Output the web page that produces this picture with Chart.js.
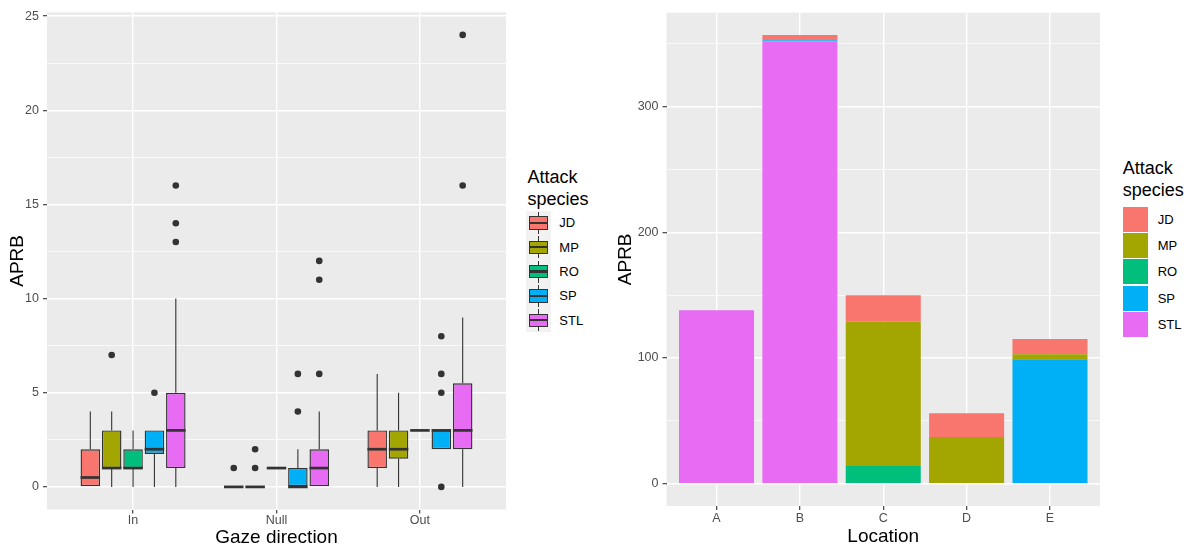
<!DOCTYPE html>
<html><head><meta charset="utf-8">
<script src="https://cdn.jsdelivr.net/npm/chart.js@4.4.1/dist/chart.umd.min.js"></script>
<style>
html,body{margin:0;padding:0;background:#fff;width:1196px;height:547px;overflow:hidden;font-family:"Liberation Sans",Arial,sans-serif;}
canvas{position:absolute;top:0;}
#c1{left:0;}
#c2{left:600px;}
.lg-title{position:absolute;font-size:18px;line-height:22px;color:#000;white-space:nowrap;}
.lg-lab{position:absolute;font-size:13px;line-height:15px;color:#000;white-space:nowrap;}
.abs{position:absolute;box-sizing:border-box;}
</style></head><body>
<canvas id="c1" width="510" height="547" style="width:510px;height:547px"></canvas>
<canvas id="c2" width="500" height="547" style="width:500px;height:547px"></canvas>
<div id="legend1"></div>
<div id="legend2"></div>
<script>
// ---------- data: left panel (boxplot) ----------
const gazeDirections = ["In", "Null", "Out"];
const speciesNames = ["JD", "MP", "RO", "SP", "STL"];
const speciesColors = ["#F8766D", "#A3A500", "#00BF7D", "#00B0F6", "#E76BF3"];
// [lower whisker, Q1, median, Q3, upper whisker] for In, Null, Out
const jdStats  = [[0, 0, 0.5, 2, 4], [0, 0, 0, 0, 0], [0, 1, 2, 3, 6]];
const mpStats  = [[0, 1, 1, 3, 4], [0, 0, 0, 0, 0], [0, 1.5, 2, 3, 5]];
const roStats  = [[0, 1, 1, 2, 3], [1, 1, 1, 1, 1], [3, 3, 3, 3, 3]];
const spStats  = [[0, 1.75, 2, 3, 3], [0, 0, 0, 1, 2], [2, 2, 3, 3, 3]];
const stlStats = [[0, 1, 3, 5, 10], [0, 0, 1, 2, 4], [0, 2, 3, 5.5, 9]];
const jdOutliers  = [[], [1], []];
const mpOutliers  = [[7], [1, 2], []];
const roOutliers  = [[], [], []];
const spOutliers  = [[5], [4, 6], [0, 5, 6, 8]];
const stlOutliers = [[13, 14, 16], [6, 11, 12], [16, 24]];
const boxTicks = [0, 5, 10, 15, 20, 25];

// ---------- data: right panel (stacked bars) ----------
const locations = ["A", "B", "C", "D", "E"];
const jdCounts  = [0, 4, 21, 19, 12];
const mpCounts  = [0, 0, 115, 37, 4];
const roCounts  = [0, 0, 14, 0, 0];
const spCounts  = [0, 1, 0, 0, 99];
const stlCounts = [138, 352, 0, 0, 0];
const barTicks = [0, 100, 200, 300];

const allStats = [jdStats, mpStats, roStats, spStats, stlStats];
const allOutliers = [jdOutliers, mpOutliers, roOutliers, spOutliers, stlOutliers];
const allCounts = [jdCounts, mpCounts, roCounts, spCounts, stlCounts];

Chart.defaults.font.family = '"Liberation Sans", Arial, sans-serif';
Chart.defaults.animation = false;

const TICK_COL = '#4D4D4D';
const DARK = '#333333';

function withMinor(major, max) {
  const step = major[1] - major[0];
  const out = [];
  major.forEach(v => {
    out.push({value: v, minor: false});
    if (v + step / 2 <= max) out.push({value: v + step / 2, minor: true});
  });
  return out.sort((a, b) => a.value - b.value);
}

const panelBg = {
  id: 'panelBg',
  beforeDraw(chart) {
    const {ctx, chartArea: a} = chart;
    ctx.save();
    ctx.fillStyle = '#EBEBEB';
    ctx.fillRect(a.left, a.top, a.right - a.left, a.bottom - a.top);
    ctx.restore();
  }
};

function yAxis(min, max, major, titlePadTop, width) {
  return {
    type: 'linear', min: min, max: max,
    afterBuildTicks: s => { s.ticks = withMinor(major, max); },
    afterFit: s => { s.width = width; },
    border: {display: false},
    grid: {
      color: '#FFFFFF',
      lineWidth: c => (c.tick && c.tick.minor) ? 0.7 : 1.4,
      tickColor: c => (c.tick && c.tick.minor) ? 'rgba(0,0,0,0)' : DARK,
      tickLength: 4, tickWidth: 1.1, drawTicks: true
    },
    ticks: {
      autoSkip: false, padding: 4, color: TICK_COL,
      font: {size: 12.5, lineHeight: 1.2},
      callback: function (v, i, ticks) { return ticks[i].minor ? '' : String(v); }
    },
    title: {display: true, text: 'APRB', color: '#000', font: {size: 19, lineHeight: 1}, padding: {top: titlePadTop, bottom: 0}}
  };
}

function xAxis(labels, titleText, height, tickPad, titlePadBottom) {
  return {
    type: 'linear', min: -0.6, max: labels.length - 1 + 0.6, offset: false,
    afterBuildTicks: s => { s.ticks = labels.map((l, i) => ({value: i})); },
    afterFit: s => { s.height = height; },
    border: {display: false},
    grid: {offset: false, color: '#FFFFFF', lineWidth: 1.4, tickColor: DARK, tickLength: 4, tickWidth: 1.1},
    ticks: {
      autoSkip: false, maxRotation: 0, padding: tickPad, color: TICK_COL,
      font: {size: 12.5, lineHeight: 1.2},
      callback: v => labels[v]
    },
    title: {display: true, text: titleText, color: '#000', font: {size: 19, lineHeight: 1}, padding: {top: 0, bottom: titlePadBottom}}
  };
}

// ---------- left chart ----------
const boxDecor = {
  id: 'boxDecor',
  afterDatasetsDraw(chart) {
    const ctx = chart.ctx, y = chart.scales.y;
    allStats.forEach((stats, di) => {
      const meta = chart.getDatasetMeta(di);
      meta.data.forEach((el, j) => {
        const s = stats[j];
        const x = el.x, w = el.width;
        ctx.save();
        ctx.strokeStyle = DARK;
        ctx.lineWidth = 1.1;
        ctx.beginPath();
        if (s[4] > s[3]) { ctx.moveTo(x, y.getPixelForValue(s[3])); ctx.lineTo(x, y.getPixelForValue(s[4])); }
        if (s[1] > s[0]) { ctx.moveTo(x, y.getPixelForValue(s[1])); ctx.lineTo(x, y.getPixelForValue(s[0])); }
        ctx.stroke();
        ctx.lineWidth = 2.7;
        const ym = y.getPixelForValue(s[2]);
        ctx.beginPath();
        ctx.moveTo(x - w / 2, ym); ctx.lineTo(x + w / 2, ym);
        ctx.stroke();
        ctx.fillStyle = DARK;
        allOutliers[di][j].forEach(v => {
          ctx.beginPath();
          ctx.arc(x, y.getPixelForValue(v), 3.3, 0, Math.PI * 2);
          ctx.fill();
        });
        ctx.restore();
      });
    });
  }
};

const boxMax = Math.max(...allStats.flat(2), ...allOutliers.flat(2));
const boxPad = boxMax * 0.05;

new Chart(document.getElementById('c1'), {
  type: 'bar',
  data: {
    datasets: speciesNames.map((name, di) => ({
      label: name,
      data: allStats[di].map((s, j) => ({x: j, y: [s[1], s[3]]})),
      backgroundColor: speciesColors[di],
      borderColor: DARK,
      borderWidth: 1.4,
      borderSkipped: false,
      categoryPercentage: 0.745,
      barPercentage: 0.913
    }))
  },
  options: {
    responsive: false,
    layout: {padding: {top: 12.3, right: 4, left: 0, bottom: 0}},
    plugins: {legend: {display: false}, tooltip: {enabled: false}},
    scales: {
      x: xAxis(gazeDirections, 'Gaze direction', 37.5, 0, 0),
      y: yAxis(-boxPad, boxMax + boxPad, boxTicks, 8, 47)
    }
  },
  plugins: [panelBg, boxDecor]
});

// ---------- right chart ----------
const totals = locations.map((l, i) => allCounts.reduce((a, c) => a + c[i], 0));
const barMax = Math.max(...totals);
const barPad = barMax * 0.05;
const stackOrder = [4, 3, 2, 1, 0]; // STL at bottom, JD on top

new Chart(document.getElementById('c2'), {
  type: 'bar',
  data: {
    datasets: stackOrder.map(di => ({
      label: speciesNames[di],
      data: allCounts[di].map((v, j) => ({x: j, y: v})),
      backgroundColor: speciesColors[di],
      borderWidth: 0,
      categoryPercentage: 0.9,
      barPercentage: 1
    }))
  },
  options: {
    responsive: false,
    layout: {padding: {top: 12.7, right: 0, left: 0, bottom: 0}},
    plugins: {legend: {display: false}, tooltip: {enabled: false}},
    scales: {
      x: Object.assign(xAxis(locations, 'Location', 41, 1.5, 0.8), {stacked: true}),
      y: Object.assign(yAxis(-barPad, barMax + barPad, barTicks, 16.5, 66.5), {stacked: true})
    }
  },
  plugins: [panelBg]
});

// ---------- legends ----------
function el(parent, cls, style, text) {
  const d = document.createElement('div');
  d.className = cls;
  Object.assign(d.style, style);
  if (text !== undefined) d.textContent = text;
  parent.appendChild(d);
  return d;
}
const lg1 = document.getElementById('legend1');
el(lg1, 'lg-title', {left: '527.5px', top: '166px'}, 'Attack');
el(lg1, 'lg-title', {left: '527.5px', top: '188px'}, 'species');
const k1Top = 210.7, k1H = 24.35;
el(lg1, 'abs', {left: '526px', top: k1Top + 'px', width: '24.7px', height: (k1H * speciesNames.length) + 'px', background: '#F2F2F2'});
speciesNames.forEach((name, i) => {
  const cy = k1Top + k1H * (i + 0.5);
  el(lg1, 'abs', {left: '537.8px', top: (cy - 11) + 'px', width: '1.1px', height: '22px', background: DARK});
  el(lg1, 'abs', {left: '529px', top: (cy - 6.65) + 'px', width: '18.7px', height: '13.3px', border: '1.3px solid ' + DARK, background: speciesColors[i]});
  el(lg1, 'abs', {left: '529px', top: (cy - 1.1) + 'px', width: '18.7px', height: '2.2px', background: DARK});
  el(lg1, 'lg-lab', {left: '559.3px', top: (cy - 7.5) + 'px'}, name);
});

const lg2 = document.getElementById('legend2');
el(lg2, 'lg-title', {left: '1122.7px', top: '156.8px'}, 'Attack');
el(lg2, 'lg-title', {left: '1122.7px', top: '178.8px'}, 'species');
const k2Top = 206.7, k2H = 26.1;
speciesNames.forEach((name, i) => {
  const top = k2Top + k2H * i;
  el(lg2, 'abs', {left: '1122.7px', top: (top + 0.5) + 'px', width: '25.6px', height: (k2H - 1) + 'px', background: speciesColors[i]});
  el(lg2, 'lg-lab', {left: '1157.7px', top: (top + k2H / 2 - 7.5) + 'px'}, name);
});
</script>
</body></html>
